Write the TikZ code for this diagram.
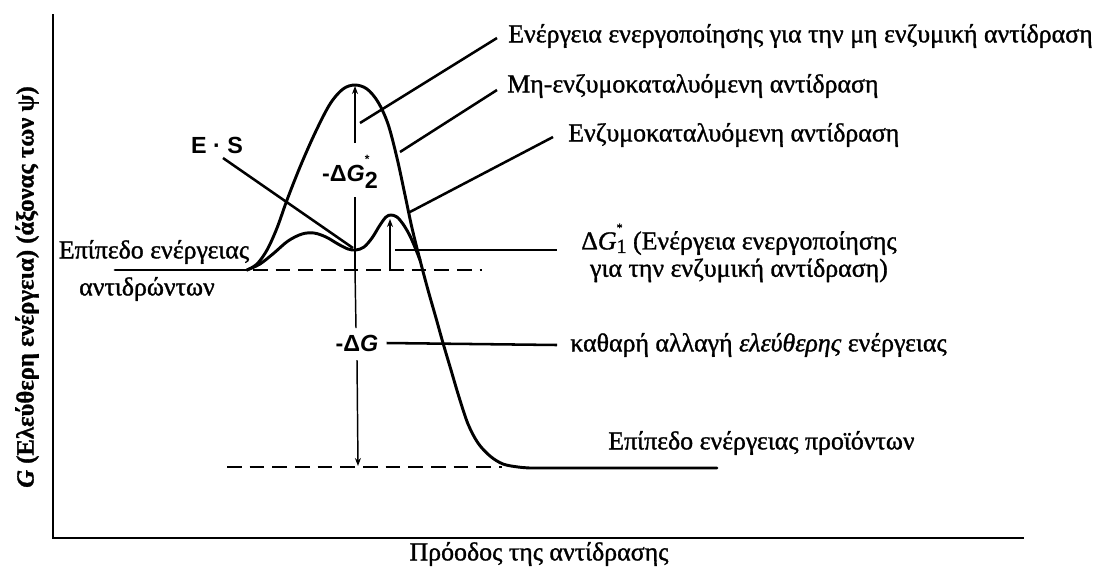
\documentclass[tikz,border=0pt]{standalone}
\usepackage{fontspec}
\setmainfont{Liberation Serif}[RawFeature={embolden=1.2}]
\newfontfamily\sansb{Liberation Sans}
\usetikzlibrary{arrows.meta}
\tikzset{
  curve/.style={line width=2.2pt, line join=round, line cap=round},
  leader/.style={line width=1.9pt},
  axisline/.style={line width=1.9pt},
  levelline/.style={line width=2.1pt, dash pattern=on 11pt off 6pt},
  measline/.style={line width=1.1pt},
  measarrow/.style={line width=1.1pt, -{Stealth[length=6pt,width=4.5pt]}},
  lbl/.style={font=\fontsize{19.4}{22}\selectfont, inner sep=0pt},
  sanslbl/.style={font=\sansb\bfseries\fontsize{17.5}{20}\selectfont, inner sep=0pt},
}
\begin{document}
\begin{tikzpicture}[x=0.75pt,y=-0.75pt]
\useasboundingbox (0,0) rectangle (1094,569);

% axes
\coordinate (ytop) at (53,14);
\coordinate (origin) at (53,538);
\coordinate (xend) at (1024,538);
\draw[axisline] (ytop) -- (origin) -- (xend);
\node[font=\bfseries\fontsize{18.5}{21}\selectfont, rotate=90, inner sep=0pt] (ylab) at (27,287) {\textit{G} (Ελεύθερη ενέργεια) (άξονας των ψ)};
\node[lbl] (xlab) at (539,554) {Πρόοδος της αντίδρασης};

% key points
\coordinate (rstart) at (115,270);
\coordinate (rend) at (247,270);
\coordinate (peak) at (355,86);
\coordinate (valley) at (353,248);
\coordinate (peak2) at (390,219);
\coordinate (pend) at (717,468);

% reactant and product levels
\draw[curve] (rstart) -- (rend);
\draw[levelline] (253,270) -- (482,270);
\draw[levelline] (227,467) -- (502,467);

% uncatalysed curve
\draw[curve] plot[smooth, tension=0.55] coordinates {
 (247,270) (257,264) (267,250) (277,228) (287,200) (300,167) (315,133)
 (330,104) (343,89) (355,85) (367,89) (378,102) (388,124) (397,158)
 (405,195) (412,228) (420,260) (428,290) (436,318) (443,343) (451,370)
 (459,397) (468,424) (478,443) (490,456) (503,464) (518,467) (530,468)}
 -- (pend);

% catalysed curve
\draw[curve] plot[smooth, tension=0.55] coordinates {
 (247,270) (260,264) (274,253) (288,241) (302,234) (314,233) (326,237)
 (338,244) (348,249) (356,250) (364,247) (372,238) (380,225) (386,217)
 (391,215) (397,217) (403,224) (409,234) (414,245) (420,260)};

% Delta G2*
\node[sanslbl, inner ysep=5pt] (g2) at (350,172) {-Δ\textit{G}\rlap{\raisebox{1.5ex}{\small *}}\raisebox{-0.55ex}{2}};
\coordinate (base2) at (355,270);
\draw[measarrow] (355,143) -- (peak);
\draw[measline] (base2) -- (355,197);

% Delta G
\node[sanslbl] (dg) at (357,343) {-Δ\textit{G}};
\draw[measline] (base2) -- (356,328);
\coordinate (bot) at (358,466);
\draw[measarrow] (357,360) -- (bot);

% Delta G1*
\coordinate (base1) at (390,271);
\draw[measarrow] (base1) -- (peak2);

% E.S
\node[sanslbl] (es) at (217,145) {E · S};
\coordinate (esl) at (223,158);
\draw[leader] (esl) -- (valley);

% labels at top right
\node[lbl, anchor=west, inner xsep=11pt*0.75] (t1) at (497,36) {Ενέργεια ενεργοποίησης για την μη ενζυμική αντίδραση};
\coordinate (c1) at (360,123);
\draw[leader] (c1) -- ([yshift=-1.5pt]t1.west);

\node[lbl, anchor=west, inner xsep=10pt*0.75] (t2) at (497,86) {Μη-ενζυμοκαταλυόμενη αντίδραση};
\coordinate (c2) at (400,152);
\draw[leader] (c2) -- ([yshift=-3pt]t2.west);

\node[lbl, anchor=west, inner xsep=15pt*0.75] (t3) at (553,135) {Ενζυμοκαταλυόμενη αντίδραση};
\coordinate (c3) at (408,213);
\draw[leader] (c3) -- ([yshift=-1.5pt]t3.west);

% Delta G1 label
\node[lbl, anchor=west, inner xsep=24pt*0.75, align=center, font=\fontsize{19.4}{20.5}\selectfont] (t4) at (557,253)
 {Δ\textit{G}\rlap{\raisebox{1.5ex}{\small *}}\raisebox{-0.3ex}{\fontsize{15}{15}\selectfont 1} (Ενέργεια ενεργοποίησης\\για την ενζυμική αντίδραση)};
\coordinate (c4) at (395,250);
\draw[leader] (c4) -- ([yshift=2.25pt]t4.west);

% net change
\node[lbl, anchor=west, inner xsep=13pt*0.75] (t5) at (557,345) {καθαρή αλλαγή \textit{ελεύθερης} ενέργειας};
\draw[leader] (dg.east) ++(6pt,0) coordinate (c5) -- (t5.west);

% levels text
\node[lbl] (r1) at (154,252) {Επίπεδο ενέργειας};
\node[lbl] (r2) at (147,289) {αντιδρώντων};
\node[lbl, anchor=west] (p1) at (608,443) {Επίπεδο ενέργειας προϊόντων};
\end{tikzpicture}
\end{document}
